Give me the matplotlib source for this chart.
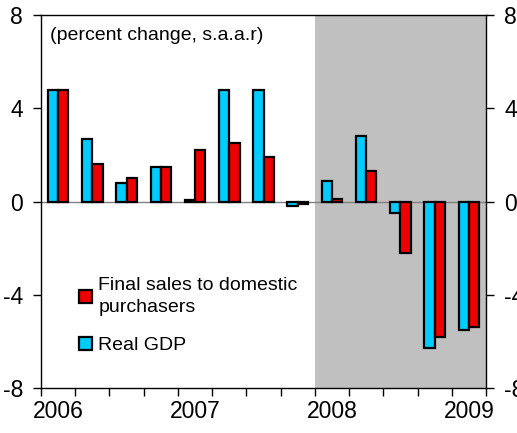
import numpy as np
import matplotlib
matplotlib.use('Agg')
import matplotlib.pyplot as plt
from matplotlib.patches import Patch

plt.rcParams['font.family'] = ['Liberation Sans', 'DejaVu Sans']

# quarterly data 2006Q1 - 2009Q1
quarters = ['2006Q1', '2006Q2', '2006Q3', '2006Q4',
            '2007Q1', '2007Q2', '2007Q3', '2007Q4',
            '2008Q1', '2008Q2', '2008Q3', '2008Q4', '2009Q1']
real_gdp = [4.8, 2.7, 0.8, 1.5, 0.05, 4.8, 4.8, -0.2, 0.9, 2.8, -0.5, -6.3, -5.5]
final_sales = [4.8, 1.6, 1.0, 1.5, 2.2, 2.5, 1.9, -0.1, 0.1, 1.3, -2.2, -5.8, -5.4]
year_labels = ['2006', '2007', '2008', '2009']
shade_start = 8  # recession shading from 2008Q1

fig = plt.figure(figsize=(5.17, 4.33), dpi=100)
ax = fig.add_axes([41 / 517, 1 - 388 / 433, 445 / 517, 373 / 433])

x = np.arange(len(quarters))
w = 0.3
ax.axvspan(shade_start - 0.5, len(quarters) - 0.5, color='#c0c0c0', zorder=0, lw=0)
ax.axhline(0, color='#808080', lw=1, zorder=1)

ax.bar(x - w / 2, real_gdp, w, color='#00ccff', edgecolor='black', lw=1.6, zorder=2)
ax.bar(x + w / 2, final_sales, w, color='#ee0000', edgecolor='black', lw=1.6, zorder=2)

ax.set_xlim(-0.5, len(quarters) - 0.5)
ax.set_ylim(-8, 8)
ax.set_yticks([-8, -4, 0, 4, 8])
ax.set_yticklabels(['-8', '-4', '0', '4', '8'])
ax.tick_params(axis='y', which='both', left=True, right=True, labelright=True,
               direction='out', length=6, width=1, labelsize=16.5, pad=7)

ax.set_xticks(np.arange(0, len(quarters), 4))
ax.set_xticklabels(year_labels)
ax.set_xticks(np.arange(-0.5, len(quarters), 1), minor=True)
ax.tick_params(axis='x', which='major', length=0, labelsize=16.5, pad=9)
ax.tick_params(axis='x', which='minor', direction='out', length=6, width=1)

for s in ax.spines.values():
    s.set_linewidth(1)

ax.text(0.02, 0.944, '(percent change, s.a.a.r)', transform=ax.transAxes,
        fontsize=14, ha='left', va='center')

handles = [Patch(facecolor='#ee0000', edgecolor='black', lw=1.6),
           Patch(facecolor='#00ccff', edgecolor='black', lw=1.6)]
leg = ax.legend(handles, ['Final sales to domestic\npurchasers', 'Real GDP'],
                loc='upper left', bbox_to_anchor=(0.068, 0.318), frameon=False,
                fontsize=14, handlelength=0.65, handleheight=0.65, handletextpad=0.35,
                labelspacing=1.05, borderaxespad=0)
for t in leg.get_texts():
    t.set_linespacing(1.4)

fig.savefig('out.png', dpi=100)
